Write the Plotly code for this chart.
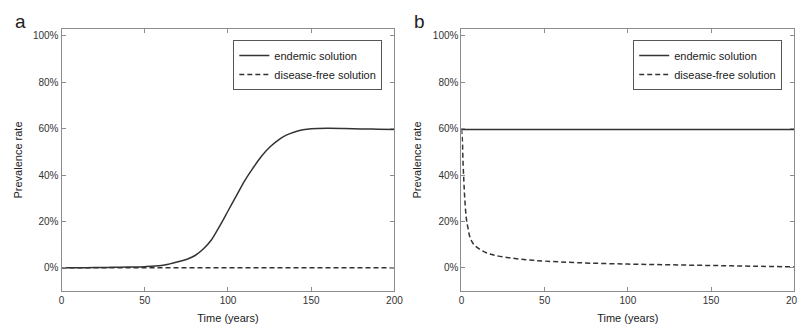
import plotly.graph_objects as go

# ---- data ----
t_endemic_a = [0, 10, 20, 30, 40, 50, 60, 65, 70, 75, 80, 85, 90, 95, 100, 105, 110,
               115, 120, 125, 130, 135, 140, 145, 150, 160, 170, 180, 190, 200]
v_endemic_a = [0.0, 0.0005, 0.001, 0.002, 0.003, 0.005, 0.010, 0.017, 0.026, 0.036,
               0.052, 0.080, 0.120, 0.180, 0.245, 0.310, 0.375, 0.430, 0.480, 0.520,
               0.550, 0.572, 0.586, 0.595, 0.600, 0.602, 0.601, 0.599, 0.598, 0.597]
t_free_a = [0, 200]
v_free_a = [0.0, 0.0]

t_endemic_b = [0, 200]
v_endemic_b = [0.597, 0.597]
t_free_b = [0, 0.5, 1, 1.5, 2, 3, 4, 5, 7, 10, 15, 20, 30, 40, 50, 70, 100, 125, 150, 175, 200]
v_free_b = [0.60, 0.56, 0.45, 0.37, 0.30, 0.21, 0.17, 0.135, 0.105, 0.085, 0.065, 0.054,
            0.042, 0.034, 0.029, 0.022, 0.016, 0.013, 0.010, 0.007, 0.004]

x_ticks = [0, 50, 100, 150, 200]
y_ticks = [0, 0.2, 0.4, 0.6, 0.8, 1.0]
y_ticklabels = ["0%", "20%", "40%", "60%", "80%", "100%"]
panel_labels = ["a", "b"]
series_names = ["endemic solution", "disease-free solution"]

# ---- style ----
FONT = "Liberation Sans, Arial, sans-serif"
LINE = "#333333"
FRAME = "#8c8c8c"
OFF = 8            # page body margin of the html page
W, H = 805 - OFF, 329 - OFF


def px(x):
    return (x - OFF) / W


def py(y):
    return (H - (y - OFF)) / H


fig = go.Figure()

fig.add_trace(go.Scatter(x=t_endemic_a, y=v_endemic_a, mode="lines", name=series_names[0],
                         line=dict(color=LINE, width=1.5, shape="spline"),
                         xaxis="x", yaxis="y", legend="legend"))
fig.add_trace(go.Scatter(x=t_free_a, y=v_free_a, mode="lines", name=series_names[1],
                         line=dict(color=LINE, width=1.5, dash="5px,3px"),
                         xaxis="x", yaxis="y", legend="legend"))
fig.add_trace(go.Scatter(x=t_endemic_b, y=v_endemic_b, mode="lines", name=series_names[0],
                         line=dict(color=LINE, width=1.5),
                         xaxis="x2", yaxis="y2", legend="legend2"))
fig.add_trace(go.Scatter(x=t_free_b, y=v_free_b, mode="lines", name=series_names[1],
                         line=dict(color=LINE, width=1.5, dash="5px,3px", shape="spline"),
                         xaxis="x2", yaxis="y2", legend="legend2"))

ydom = [py(291), py(29)]


def xaxis(domain, anchor):
    return dict(domain=domain, anchor=anchor, range=[0, 200], tickvals=x_ticks,
                ticks="inside", ticklen=4, tickcolor=FRAME, showline=True, linecolor=FRAME,
                linewidth=1, mirror="allticks", showgrid=False, zeroline=False,
                tickfont=dict(family=FONT, size=10, color="#333"),
                title=dict(text="Time (years)", font=dict(family=FONT, size=11, color="#222"),
                           standoff=9))


def yaxis(anchor):
    return dict(domain=ydom, anchor=anchor, range=[-0.1, 1.03], tickvals=y_ticks,
                ticktext=y_ticklabels,
                ticks="inside", ticklen=4, tickcolor=FRAME, showline=True, linecolor=FRAME,
                linewidth=1, mirror="allticks", showgrid=False, zeroline=False,
                tickfont=dict(family=FONT, size=10, color="#333"),
                title=dict(text="Prevalence rate", font=dict(family=FONT, size=11, color="#222"),
                           standoff=8))


legend_common = dict(bgcolor="white", bordercolor="#555", borderwidth=1,
                     font=dict(family=FONT, size=11, color="#222"),
                     xanchor="right", yanchor="middle", tracegroupgap=0, itemwidth=30)

fig.update_layout(
    width=W, height=H,
    margin=dict(l=0, r=0, t=0, b=0),
    paper_bgcolor="white", plot_bgcolor="white",
    xaxis=xaxis([px(59.3), px(397.3)], "y"),
    yaxis=yaxis("x"),
    xaxis2=xaxis([px(465.3), px(803.3)], "y2"),
    yaxis2=yaxis("x2"),
    legend=dict(x=px(385), y=py(65), **legend_common),
    legend2=dict(x=px(791), y=py(65), **legend_common),
    annotations=[
        dict(text=panel_labels[0], x=px(17.2), y=py(21.5), xref="paper", yref="paper",
             xanchor="center", yanchor="middle", showarrow=False,
             font=dict(family=FONT, size=19, color="#222")),
        dict(text=panel_labels[1], x=px(423), y=py(21.5), xref="paper", yref="paper",
             xanchor="center", yanchor="middle", showarrow=False,
             font=dict(family=FONT, size=19, color="#222")),
    ],
)

fig.write_html("out.html")
